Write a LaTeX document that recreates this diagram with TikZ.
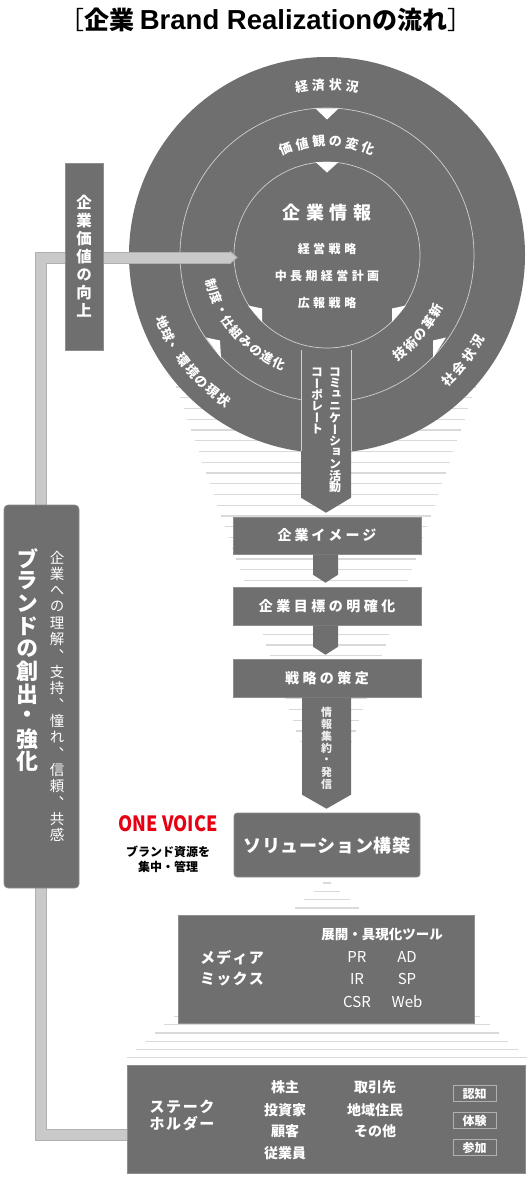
\documentclass[tikz,border=0pt]{standalone}
\usepackage{fontspec}
\setmainfont{Noto Sans CJK JP}
\newfontfamily\vjp{Noto Sans CJK JP}[RawFeature=+vert]
\newfontfamily\lat{Liberation Sans}
\usetikzlibrary{calc}
\definecolor{dk}{HTML}{6F6F6F}
\definecolor{dkb}{HTML}{8E8E8E}
\definecolor{rl}{HTML}{D0D0D0}
\definecolor{fl}{HTML}{D9D9D9}
\definecolor{barc}{HTML}{C9C9C9}
\definecolor{barb}{HTML}{B0B0B0}
\definecolor{ovred}{HTML}{E60012}
\newcommand\sptext[2]{\foreach \cc [count=\nn] in {#2}{\ifnum\nn>1 \kern#1\fi\cc}}
\newcommand\vtxt[2]{\vbox{\offinterlineskip\foreach \cc in {#2}{\vbox to #1{\vss\hbox to 1.2em{\hss\cc\hss}\vss}}}}
\newcommand\arctext[6]{\foreach \cc [count=\nn from 0] in {#6}{\pgfmathsetmacro\angA{#2+\nn*(#3)}\pgfmathsetmacro\rotA{\angA+(#4)}\node[font={#5},text=white,inner sep=0,rotate=\rotA] at ({327+#1*cos(\angA)},{255-#1*sin(\angA)}) {\cc};}}
\begin{document}
\begin{tikzpicture}[x=1pt,y=-1pt,
  box/.style={fill=dk,draw=dkb,line width=0.6,inner sep=0},
  wt/.style={text=white,inner sep=0},
  sbox/.style={draw=barb,line width=0.7,minimum width=43,minimum height=16,inner sep=0,text=white,font=\bfseries\fontsize{12}{12}\selectfont},
  flline/.style={fl,line width=1.1}]
\useasboundingbox (0,0) rectangle (530,1180);
% funnel lines
\foreach \k in {0,...,35}{\pgfmathsetmacro\yy{387+10.75*\k}\pgfmathsetmacro\hw{150-0.35*(\yy-387)}
  \draw[flline] ({326-\hw},\yy) -- ({326+\hw},\yy);}
\foreach \k in {0,...,21}{\pgfmathsetmacro\yy{883+8.33*\k}\pgfmathsetmacro\hw{4+1.12*(\yy-883)}
  \draw[flline] ({327-\hw},\yy) -- ({327+\hw},\yy);}
% title
\node[inner sep=0] (title) at (266,20) {\fontsize{25}{28}\selectfont ［{\bfseries 企業\kern5pt{\lat\fontsize{27.5}{28}\selectfont Brand Realization}の流れ}］};
% circles
\node[circle,fill=dk,minimum size=396,inner sep=0] (outer) at (327,255) {};
\node[circle,draw=rl,line width=0.7,minimum size=294,inner sep=0] (middle) at (327,255) {};
\node[circle,draw=rl,line width=0.7,minimum size=186,inner sep=0] (inner) at (327,255) {};
% triangles
\fill[white] (315.5,108.5)--(338.5,108.5)--(327,119.5)--cycle;
\fill[white] (315.5,162)--(338.5,162)--(327,172.5)--cycle;
\fill[white] (248,305.5)--(262,308.5)--(262,322)--cycle;
\fill[white] (406,305.5)--(392,308.5)--(392,322)--cycle;
\fill[white] (206,337.5)--(220,340.5)--(221,358)--cycle;
\fill[white] (446,337.5)--(433,340.5)--(433,358)--cycle;
% ring texts
\arctext{170}{98.6}{-5.73}{-90}{\bfseries\fontsize{13}{13}\selectfont}{経,済,状,況}
\arctext{114}{111.1}{-8.45}{-90}{\bfseries\fontsize{13}{13}\selectfont}{価,値,観,の,変,化}
\arctext{119}{194.7}{6.44}{90}{\bfseries\fontsize{12.5}{12.5}\selectfont}{制,度,・,仕,組,み,の,進,化}
\arctext{122.5}{306.3}{6.7}{90}{\bfseries\fontsize{13}{13}\selectfont}{技,術,の,革,新}
\arctext{178}{202.3}{4.6}{90}{\bfseries\fontsize{13}{13}\selectfont}{地,球,、,環,境,の,現,状}
\arctext{174}{314.2}{5.3}{90}{\bfseries\fontsize{13}{13}\selectfont}{社,会,状,況}
% inner texts
\node[wt] (info) at (327,213) {\bfseries\fontsize{18}{18}\selectfont\sptext{5.5pt}{企,業,情,報}};
\node[wt] (i1) at (327,249) {\bfseries\fontsize{12}{12}\selectfont\sptext{3.5pt}{経,営,戦,略}};
\node[wt] (i2) at (327,276) {\bfseries\fontsize{12}{12}\selectfont\sptext{3.4pt}{中,長,期,経,営,計,画}};
\node[wt] (i3) at (327,303) {\bfseries\fontsize{12}{12}\selectfont\sptext{3.5pt}{広,報,戦,略}};
% boxes
\node[box,minimum width=188,minimum height=37] (img) at (327,535.5) {};
\node[box,minimum width=188,minimum height=38] (goal) at (327,606) {};
\node[box,minimum width=188,minimum height=38] (strat) at (327,678) {};
\node[box,rounded corners=3,minimum width=186,minimum height=64] (sol) at (327,845) {};
% corporate arrow
\coordinate (atop) at (326,349);
\fill[dk] ($(atop)+(-25,0)$) -- ($(atop)+(25,0)$) -- ($(img.north)+(24,-19)$) -- ($(img.north)+(-1,-4)$) -- ($(img.north)+(-26,-19)$) -- cycle;
\draw[rl,line width=0.7] (301,350) -- (301,451) (351,350) -- (351,451);
\node[wt,anchor=north] (corp1) at (317,366) {\vjp\bfseries\fontsize{12}{12}\selectfont\vtxt{11.5pt}{コ,ー,ポ,レ,ー,ト}};
\node[wt,anchor=north] (corp2) at (335,366) {\vjp\bfseries\fontsize{12}{12}\selectfont\vtxt{11.5pt}{コ,ミ,ュ,ニ,ケ,ー,シ,ョ,ン,活,動}};
% small arrows
\fill[dk] ($(img.south)+(-14,0)$) -- ($(img.south)+(11,0)$) -- ($(goal.north)+(11,-12)$) -- ($(goal.north)+(-1.5,-4)$) -- ($(goal.north)+(-14,-12)$) -- cycle;
\fill[dk] ($(goal.south)+(-14,0)$) -- ($(goal.south)+(11,0)$) -- ($(strat.north)+(11,-12)$) -- ($(strat.north)+(-1.5,-4)$) -- ($(strat.north)+(-14,-12)$) -- cycle;
\fill[dk] ($(strat.south)+(-25,0)$) -- ($(strat.south)+(24,0)$) -- ($(sol.north)+(24,-18)$) -- ($(sol.north)+(-0.5,-4)$) -- ($(sol.north)+(-25,-18)$) -- cycle;
\node[wt,text=white!88!dk] (infoc) at (326.5,748.5) {\vjp\bfseries\fontsize{11}{11}\selectfont\vtxt{11.9pt}{情,報,集,約,・,発,信}};
% box texts
\node[wt] (imgt) at (img) {\bfseries\fontsize{14}{14}\selectfont\sptext{3pt}{企,業,イ,メ,ー,ジ}};
\node[wt] (goalt) at (goal) {\bfseries\fontsize{14}{14}\selectfont\sptext{3.5pt}{企,業,目,標,の,明,確,化}};
\node[wt] (stratt) at (strat) {\bfseries\fontsize{14}{14}\selectfont\sptext{3.4pt}{戦,略,の,策,定}};
\node[wt] (solt) at (327,846) {\bfseries\fontsize{18}{18}\selectfont\sptext{0.6pt}{ソ,リ,ュ,ー,シ,ョ,ン,構,築}};
% one voice
\node[text=ovred,inner sep=0] (ov) at (168,824) {\bfseries\fontsize{21}{21}\selectfont\scalebox{0.86}[1]{ONE VOICE}};
\node[inner sep=0,align=center,font=\bfseries\fontsize{12}{15}\selectfont] (ovsub) at (168,859) {ブランド資源を\\集中・管理};
% bar
\coordinate (b0) at (130,1135); \coordinate (b1) at (41,1135);
\coordinate (b2) at (41,257.5); \coordinate (b3) at (231,257.5);
\draw[barb,line width=12] (b0)--(b1)--(b2)--(b3);
\draw[barc,line width=10] (b0)--(b1)--(b2)--(b3);
\fill[barc] (230,251.5)--(237,257.5)--(230,263.5)--cycle;
\draw[barb,line width=1] (230,251.5)--(237,257.5)--(230,263.5);
% left boxes
\node[box,minimum width=38,minimum height=187] (kachi) at (84,256.5) {\color{white}\vjp\bfseries\fontsize{15.5}{15.5}\selectfont\vtxt{18pt}{企,業,価,値,の,向,上}};
\node[box,rounded corners=4,minimum width=75,minimum height=383] (brand) at (41.5,696.5) {};
\node[wt] (brand1) at (27,660) {\vjp\bfseries\fontsize{22}{22}\selectfont\vtxt{22.6pt}{ブ,ラ,ン,ド,の,創,出,・,強,化}};
\node[wt] (brand2) at (57,696.5) {\vjp\fontsize{14.5}{14.5}\selectfont\vtxt{16.3pt}{企,業,へ,の,理,解,、,支,持,、,憧,れ,、,信,頼,、,共,感}};
% media box
\node[box,minimum width=296,minimum height=108] (media) at (326,969) {};
\node[wt] (m1) at (232,958) {\bfseries\fontsize{15}{15}\selectfont\sptext{1.2pt}{メ,デ,ィ,ア}};
\node[wt] (m2) at (232,979) {\bfseries\fontsize{15}{15}\selectfont\sptext{1.2pt}{ミ,ッ,ク,ス}};
\node[wt] (tools) at (382,934) {\bfseries\fontsize{13.5}{13.5}\selectfont 展開・具現化ツール};
\node[wt] (pr) at (357,957) {\fontsize{15}{15}\selectfont PR};
\node[wt] (ad) at (407,957) {\fontsize{15}{15}\selectfont AD};
\node[wt] (ir) at (357,979) {\fontsize{15}{15}\selectfont IR};
\node[wt] (sp) at (407,979) {\fontsize{15}{15}\selectfont SP};
\node[wt] (csr) at (357,1002) {\fontsize{15}{15}\selectfont CSR};
\node[wt] (web) at (407,1002) {\fontsize{15}{15}\selectfont Web};
% stakeholder box
\node[box,minimum width=398,minimum height=108] (stake) at (326,1119) {};
\node[wt] (s1) at (182,1107) {\bfseries\fontsize{15}{15}\selectfont\sptext{1.6pt}{ス,テ,ー,ク}};
\node[wt] (s2) at (182,1124) {\bfseries\fontsize{15}{15}\selectfont\sptext{1.6pt}{ホ,ル,ダ,ー}};
\node[wt] (k1) at (285,1087) {\bfseries\fontsize{14}{14}\selectfont 株主};
\node[wt] (k2) at (285,1110) {\bfseries\fontsize{14}{14}\selectfont 投資家};
\node[wt] (k3) at (285,1131) {\bfseries\fontsize{14}{14}\selectfont 顧客};
\node[wt] (k4) at (285,1153) {\bfseries\fontsize{14}{14}\selectfont 従業員};
\node[wt] (t1) at (375,1087) {\bfseries\fontsize{14}{14}\selectfont 取引先};
\node[wt] (t2) at (375,1110) {\bfseries\fontsize{14}{14}\selectfont 地域住民};
\node[wt] (t3) at (375,1131) {\bfseries\fontsize{14}{14}\selectfont その他};
\node[sbox] (n1) at (474.5,1093.5) {認知};
\node[sbox] (n2) at (474.5,1120.5) {体験};
\node[sbox] (n3) at (474.5,1147.5) {参加};
\end{tikzpicture}
\end{document}
